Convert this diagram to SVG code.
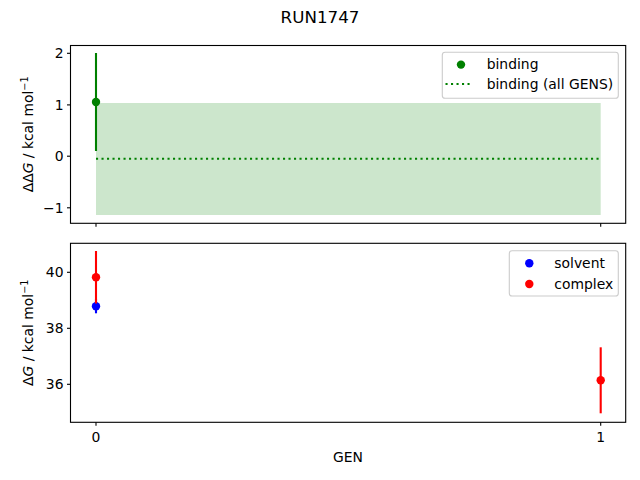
<svg xmlns="http://www.w3.org/2000/svg" width="640" height="480" viewBox="0 0 640 480">
<style>
text{font-family:"DejaVu Sans","Liberation Sans",sans-serif;font-size:13.9px;fill:#000}
.spine{fill:none;stroke:#000;stroke-width:1.1}
.tick{stroke:#000;stroke-width:1.1}
.yt{text-anchor:end}
.xt{text-anchor:middle}
.leg{fill:#fff;fill-opacity:0.8;stroke:#cccccc;stroke-width:1.1}
.eg{stroke:#008000;stroke-width:2.1}
.er{stroke:#ff0000;stroke-width:2.1}
.eb{stroke:#0000ff;stroke-width:2.1}
</style>
<rect width="640" height="480" fill="#fff"/>
<text x="320" y="23" text-anchor="middle" font-size="16.7px" style="font-size:16.7px">RUN1747</text>

<g id="top-axes">
<rect x="96" y="103" width="504.7" height="112" fill="#008000" fill-opacity="0.2"/>
<line x1="96" y1="158.8" x2="600.7" y2="158.8" stroke="#008000" stroke-width="2.1" stroke-dasharray="2.1,3.4"/>
<line class="eg" x1="96" y1="151" x2="96" y2="53"/>
<circle cx="96" cy="102" r="4.2" fill="#008000"/>
<rect class="spine" x="70.5" y="45.5" width="555.2" height="177.8"/>
<line class="tick" x1="67" y1="53.3" x2="70.5" y2="53.3"/>
<line class="tick" x1="67" y1="104.9" x2="70.5" y2="104.9"/>
<line class="tick" x1="67" y1="156.2" x2="70.5" y2="156.2"/>
<line class="tick" x1="67" y1="207.8" x2="70.5" y2="207.8"/>
<line class="tick" x1="96" y1="223.3" x2="96" y2="226.8"/>
<line class="tick" x1="600.7" y1="223.3" x2="600.7" y2="226.8"/>
<text class="yt" x="63.5" y="58.3">2</text>
<text class="yt" x="63.5" y="109.9">1</text>
<text class="yt" x="63.5" y="161.2">0</text>
<text class="yt" x="63.5" y="212.8">−1</text>
<text transform="translate(33,134.4) rotate(-90)" text-anchor="middle">ΔΔ<tspan font-style="italic">G</tspan> / kcal mol<tspan font-size="9.7" style="font-size:9.7px" dy="-5">−1</tspan></text>
</g>

<g id="top-legend">
<rect class="leg" x="442.3" y="52.3" width="176" height="46" rx="2.8"/>
<circle cx="461" cy="64.6" r="4.2" fill="#008000"/>
<line x1="445.5" y1="84" x2="473" y2="84" stroke="#008000" stroke-width="2.1" stroke-dasharray="2.1,3.4"/>
<text x="486.7" y="69">binding</text>
<text x="486.7" y="89">binding (all GENS)</text>
</g>

<g id="bottom-axes">
<line class="eb" x1="96" y1="299" x2="96" y2="313.3"/>
<circle cx="96" cy="306.3" r="4.2" fill="#0000ff"/>
<line class="er" x1="96" y1="251" x2="96" y2="303.5"/>
<circle cx="96" cy="277.3" r="4.2" fill="#ff0000"/>
<line class="er" x1="600.7" y1="347.3" x2="600.7" y2="413.3"/>
<circle cx="600.7" cy="380.3" r="4.2" fill="#ff0000"/>
<rect class="spine" x="70.5" y="243.3" width="555.2" height="179"/>
<line class="tick" x1="67" y1="272.3" x2="70.5" y2="272.3"/>
<line class="tick" x1="67" y1="328.3" x2="70.5" y2="328.3"/>
<line class="tick" x1="67" y1="384.3" x2="70.5" y2="384.3"/>
<line class="tick" x1="96" y1="422.3" x2="96" y2="425.8"/>
<line class="tick" x1="600.7" y1="422.3" x2="600.7" y2="425.8"/>
<text class="yt" x="63.5" y="277.3">40</text>
<text class="yt" x="63.5" y="333.3">38</text>
<text class="yt" x="63.5" y="389.3">36</text>
<text class="xt" x="96" y="441.8">0</text>
<text class="xt" x="600.7" y="441.8">1</text>
<text class="xt" x="348" y="462">GEN</text>
<text transform="translate(32.5,332.8) rotate(-90)" text-anchor="middle">Δ<tspan font-style="italic">G</tspan> / kcal mol<tspan font-size="9.7" style="font-size:9.7px" dy="-5">−1</tspan></text>
</g>

<g id="bottom-legend">
<rect class="leg" x="509.3" y="250.7" width="109" height="45.3" rx="2.8"/>
<circle cx="529.3" cy="263.3" r="4.2" fill="#0000ff"/>
<circle cx="529.3" cy="284" r="4.2" fill="#ff0000"/>
<text x="554.3" y="268">solvent</text>
<text x="554.3" y="288.5">complex</text>
</g>
</svg>
